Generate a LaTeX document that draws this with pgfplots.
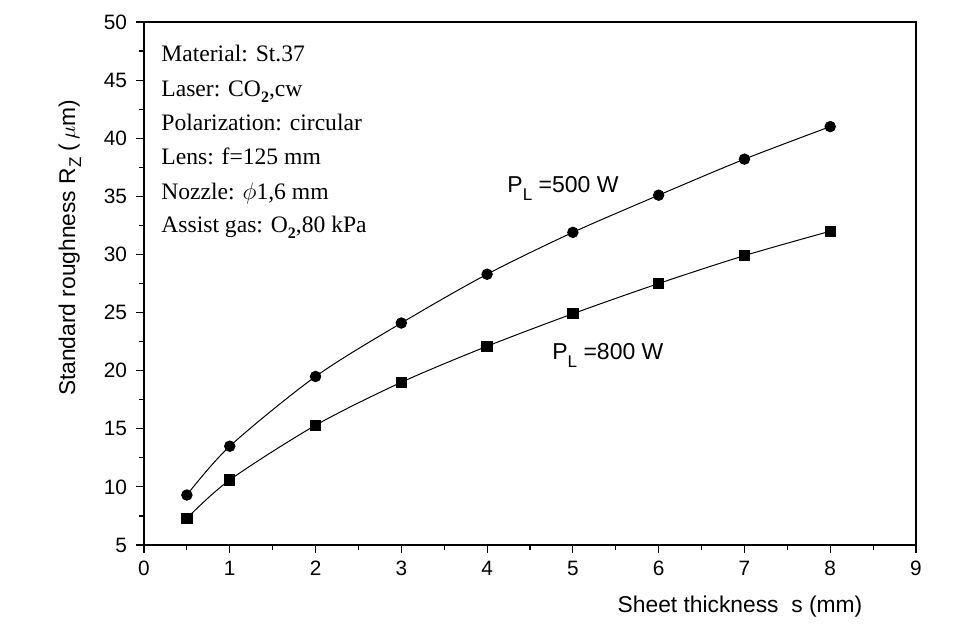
\documentclass[border=0pt]{standalone}
\usepackage{fontspec}
\setmainfont{Liberation Sans}
\newfontfamily\seriffont{Liberation Serif}
\usepackage{pgfplots}
\pgfplotsset{compat=1.18}

% Standard roughness Rz (um) vs sheet thickness s (mm)
\pgfplotstableread{
s    rz
0.5  9.3
1    13.5
2    19.5
3    24.1
4    28.3
5    31.9
6    35.1
7    38.2
8    41.0
}\tabA
\pgfplotstableread{
s    rz
0.5  7.3
1    10.6
2    15.3
3    19.0
4    22.1
5    24.9
6    27.5
7    29.9
8    32.0
}\tabB

\newcommand{\sub}[1]{\raisebox{-0.55ex}{\fontsize{8}{9}\selectfont\bfseries #1}}

\begin{document}
\begin{tikzpicture}
\path[use as bounding box] (0,0) rectangle (484pt,316pt);
\begin{axis}[
  at={(72pt,43.5pt)}, anchor=south west,
  scale only axis, width=386pt, height=261.5pt,
  xmin=0, xmax=9, ymin=5, ymax=50,
  xtick={0,...,9}, ytick={5,10,...,50},
  minor x tick num=1, minor y tick num=1,
  tick align=outside, tick pos=left,
  major tick length=4pt, minor tick length=2.5pt,
  axis line style={line width=0.8pt},
  every tick/.style={black, line width=0.6pt},
  /pgf/number format/assume math mode=true,
  tick label style={font=\fontsize{10.4}{12}\selectfont},
  xticklabel style={yshift=-0.5pt},
  yticklabel style={xshift=-1pt},
  xlabel={Sheet thickness\ \ s (mm)},
  ylabel={Standard roughness R\raisebox{-0.5ex}{\fontsize{8.5}{9}\selectfont Z} (\,$\mu$m)},
  label style={font=\fontsize{11.4}{13}\selectfont},
  xlabel style={at={(axis description cs:0.772,-0.1185)}, anchor=center},
  ylabel style={at={(axis description cs:-0.096,0.568)}, anchor=center},
  clip=false,
]
\addplot[black, line width=0.5pt, smooth, tension=0.5, mark=*, mark size=2.6pt,
  mark options={fill=black}] table[x=s, y=rz] {\tabA};
\addplot[black, line width=0.5pt, smooth, tension=0.5, mark=square*, mark size=2.6pt,
  mark options={fill=black}] table[x=s, y=rz] {\tabB};

\node[anchor=base west, inner sep=0, font=\fontsize{11.5}{13}\selectfont]
  at (axis cs:4.232,35.29) {P\raisebox{-0.65ex}{\fontsize{8.5}{9}\selectfont L} =500 W};
\node[anchor=base west, inner sep=0, font=\fontsize{11.5}{13}\selectfont]
  at (axis cs:4.756,20.92) {P\raisebox{-0.65ex}{\fontsize{8.5}{9}\selectfont L} =800 W};

\begin{scope}[every node/.style={anchor=base west, inner sep=0,
    font=\seriffont\fontsize{11.8}{13}\selectfont}]
\node at (axis cs:0.198,46.59) {Material: St.37};
\node at (axis cs:0.198,43.58) {Laser: CO\sub{2},cw};
\node at (axis cs:0.198,40.63) {Polarization: circular};
\node at (axis cs:0.198,37.70) {Lens: f=125 mm};
\node at (axis cs:0.198,34.69) {Nozzle: $\phi$1,6 mm};
\node at (axis cs:0.198,31.85) {Assist gas: O\sub{2},80 kPa};
\end{scope}
\end{axis}
\end{tikzpicture}
\end{document}
